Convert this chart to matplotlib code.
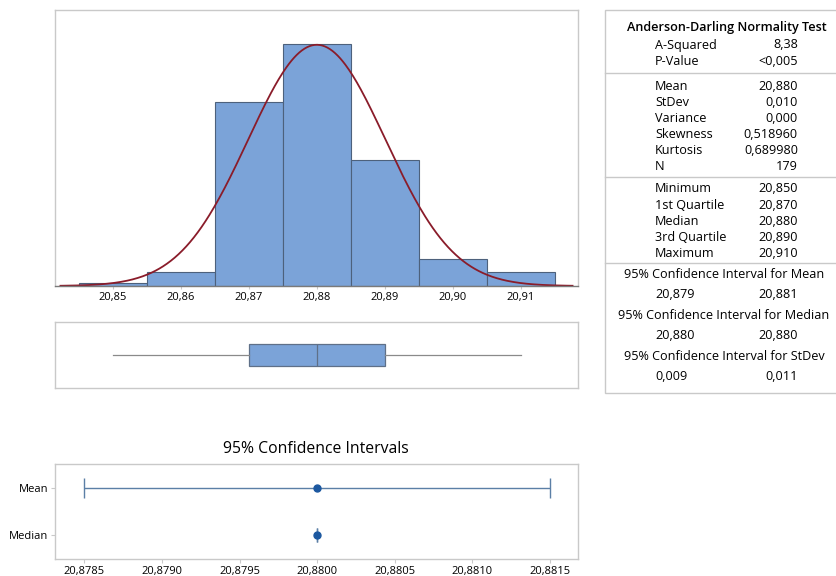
import numpy as np
import matplotlib
matplotlib.use("Agg")
import matplotlib.pyplot as plt
from matplotlib.patches import Rectangle
from matplotlib.lines import Line2D

plt.rcParams['font.family'] = ['Open Sans', 'DejaVu Sans']

# histogram bins (class midpoints) and counts, N = 179
bin_mids = [20.85, 20.86, 20.87, 20.88, 20.89, 20.90, 20.91]
counts = [1, 4, 54, 71, 37, 8, 4]
bin_width = 0.01

# summary statistics
mean_val = 20.880
sd_val = 0.0101
q_min, q1, q_med, q3, q_max = 20.850, 20.870, 20.880, 20.890, 20.910
ci_mean = [20.8785, 20.8815]
ci_median = [20.880, 20.880]

hist_ticks = [20.85, 20.86, 20.87, 20.88, 20.89, 20.90, 20.91]
ci_ticks = [20.8785, 20.8790, 20.8795, 20.8800, 20.8805, 20.8810, 20.8815]

# text for the summary table on the right
ad_rows = [("A-Squared", "8,38"), ("P-Value", "<0,005")]
moment_rows = [("Mean", "20,880"), ("StDev", "0,010"), ("Variance", "0,000"),
               ("Skewness", "0,518960"), ("Kurtosis", "0,689980"), ("N", "179")]
quart_rows = [("Minimum", "20,850"), ("1st Quartile", "20,870"), ("Median", "20,880"),
              ("3rd Quartile", "20,890"), ("Maximum", "20,910")]
ci_rows = [("95% Confidence Interval for Mean", "20,879", "20,881"),
           ("95% Confidence Interval for Median", "20,880", "20,880"),
           ("95% Confidence Interval for StDev", "0,009", "0,011")]

bar_col = "#7ba3d8"
bar_edge = "#4d617c"
frame_col = "#c9c9c9"
xlim = (20.8415, 20.9184)

W, H = 837, 576
fig = plt.figure(figsize=(W / 100, H / 100), dpi=100)


def px_axes(x0, y0, x1, y1):
    return fig.add_axes([x0 / W, 1 - y1 / H, (x1 - x0) / W, (y1 - y0) / H])


def style_frame(ax):
    for s in ax.spines.values():
        s.set_color(frame_col)
        s.set_linewidth(1.0)


def comma(v, nd):
    return f"{v:.{nd}f}".replace(".", ",")


# --- histogram with fitted normal curve
ax = px_axes(55, 10, 578, 286)
ax.bar(bin_mids, counts, width=bin_width, color=bar_col, edgecolor=bar_edge, linewidth=0.8)
xs = np.linspace(xlim[0] + 0.0008, xlim[1] - 0.0008, 400)
pdf = np.exp(-0.5 * ((xs - mean_val) / sd_val) ** 2) / (sd_val * np.sqrt(2 * np.pi))
ax.plot(xs, pdf * sum(counts) * bin_width, color="#8a1c2a", lw=1.3)
ax.set_xlim(*xlim)
ax.set_ylim(0, 80.9)
ax.set_yticks([])
ax.set_xticks(hist_ticks)
ax.set_xticklabels([comma(t, 2) for t in hist_ticks])
ax.tick_params(axis="x", length=2, color=frame_col, labelsize=8, pad=2)
style_frame(ax)
ax.spines["bottom"].set_color("#7a7a7a")

# --- boxplot
axb = px_axes(55, 322, 578, 388)
axb.bxp([{"whislo": q_min, "q1": q1, "med": q_med, "q3": q3, "whishi": q_max, "fliers": []}],
        vert=False, widths=0.34, showcaps=False, patch_artist=True,
        boxprops=dict(facecolor=bar_col, edgecolor="#5f7088", linewidth=0.9),
        medianprops=dict(color="#5f7088", linewidth=0.9),
        whiskerprops=dict(color="#8a8a8a", linewidth=0.9))
axb.set_xlim(*xlim)
axb.set_ylim(0.5, 1.5)
axb.set_xticks([])
axb.set_yticks([])
style_frame(axb)

# --- confidence interval panel
axc = px_axes(55, 464, 578, 559)
ypos = [1, 0]
axc.errorbar([mean_val], [ypos[0]], xerr=[[mean_val - ci_mean[0]], [ci_mean[1] - mean_val]],
             fmt="o", color="#1c58a0", ecolor="#5b7fa6", elinewidth=1.0, capsize=7,
             capthick=1.0, markersize=5)
axc.errorbar([q_med], [ypos[1]], xerr=[[q_med - ci_median[0]], [ci_median[1] - q_med]],
             fmt="o", color="#1c58a0", ecolor="#5b7fa6", elinewidth=1.0, capsize=5,
             capthick=1.0, markersize=5)
axc.set_xlim(20.87831, 20.88168)
axc.set_ylim(-0.5, 1.5)
axc.set_yticks(ypos)
axc.set_yticklabels(["Mean", "Median"])
axc.set_xticks(ci_ticks)
axc.set_xticklabels([comma(t, 4) for t in ci_ticks])
axc.tick_params(axis="both", length=3, color=frame_col, labelsize=8, pad=2)
style_frame(axc)
fig.text(316 / W, 1 - 449 / H, "95% Confidence Intervals", ha="center", va="center", fontsize=11.3)

# --- summary table
fig.add_artist(Rectangle((605 / W, 1 - 393 / H), (W - 605) / W, 383 / H,
                         transform=fig.transFigure, fill=False, edgecolor=frame_col, lw=1.0))
for yl in (73, 177, 263):
    fig.add_artist(Line2D([605 / W, 1], [1 - yl / H, 1 - yl / H],
                          transform=fig.transFigure, color=frame_col, lw=1.0))


def put(x, y, s, ha="left", **kw):
    fig.text(x / W, 1 - y / H, s, ha=ha, va="center", fontsize=9.1, **kw)


put(727, 27, "Anderson-Darling Normality Test", ha="center", weight="semibold")
lx, rx, step = 655, 798, 16.2
for i, (k, v) in enumerate(ad_rows):
    put(lx, 45 + i * step, k)
    put(rx, 45 + i * step, v, ha="right")
for i, (k, v) in enumerate(moment_rows):
    put(lx, 86 + i * step, k)
    put(rx, 86 + i * step, v, ha="right")
for i, (k, v) in enumerate(quart_rows):
    put(lx, 189 + i * step, k)
    put(rx, 189 + i * step, v, ha="right")
for i, (title, lo, hi) in enumerate(ci_rows):
    y = 275 + i * 40.5
    put(724, y, title, ha="center")
    put(lx, y + 20, lo)
    put(rx, y + 20, hi, ha="right")

fig.savefig("out.png", dpi=100)
